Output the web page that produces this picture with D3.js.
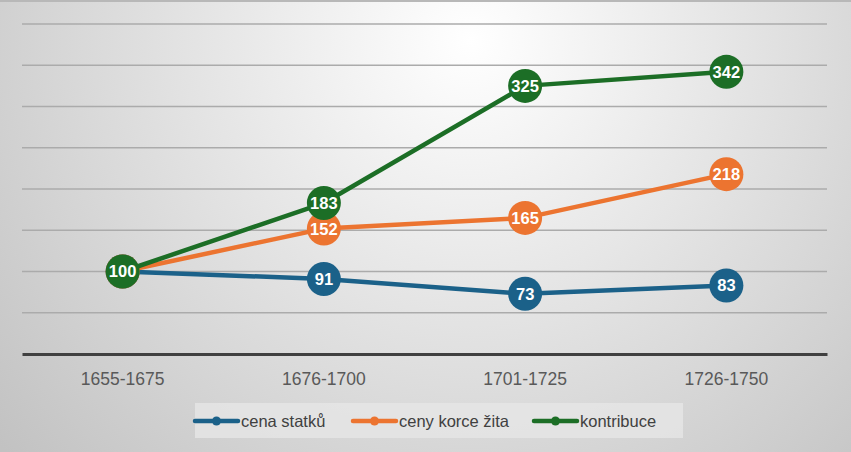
<!DOCTYPE html>
<html>
<head>
<meta charset="utf-8">
<script src="https://cdn.jsdelivr.net/npm/d3@7"></script>
<style>
  html, body { margin: 0; padding: 0; background: #fff; }
  svg { display: block; }
</style>
</head>
<body>
<div id="chart"></div>
<script>
// data
var categories = ["1655-1675", "1676-1700", "1701-1725", "1726-1750"];
var cenaStatku = [100, 91, 73, 83];
var cenyKorceZita = [100, 152, 165, 218];
var kontribuce = [100, 183, 325, 342];
var seriesNames = ["cena statků", "ceny korce žita", "kontribuce"];
var seriesColors = ["#1b6189", "#ec7430", "#1c6e26"];
var yTicks = [0, 50, 100, 150, 200, 250, 300, 350, 400];

var width = 851;
var height = 452;

var seriesList = [cenaStatku, cenyKorceZita, kontribuce];

var svg = d3.select("#chart")
    .append("svg")
    .attr("xmlns", "http://www.w3.org/2000/svg")
    .attr("width", width)
    .attr("height", height);

// background gradient
var defs = svg.append("defs");
var grad = defs.append("radialGradient")
    .attr("id", "bg")
    .attr("gradientUnits", "userSpaceOnUse")
    .attr("cx", 470).attr("cy", 40)
    .attr("r", 620);
grad.append("stop").attr("offset", "0%").attr("stop-color", "#ffffff");
grad.append("stop").attr("offset", "100%").attr("stop-color", "#c2c2c2");

svg.append("rect")
    .attr("width", width)
    .attr("height", height)
    .attr("fill", "url(#bg)");

svg.append("rect")
    .attr("width", width)
    .attr("height", 2)
    .attr("fill", "#b8b8b8");

var x = d3.scaleBand()
    .domain(categories)
    .range([22, 827]);

var y = d3.scaleLinear()
    .domain([0, 400])
    .range([354, 24]);

// gridlines
svg.append("g")
    .selectAll("line")
    .data(yTicks.filter(function(d) { return d > 0; }))
    .enter()
    .append("line")
    .attr("x1", 22)
    .attr("x2", 827)
    .attr("y1", function(d) { return y(d); })
    .attr("y2", function(d) { return y(d); })
    .attr("stroke", "#ababab")
    .attr("stroke-width", 1.5);

// x axis
var xAxis = svg.append("g")
    .attr("transform", "translate(0," + y(0) + ")")
    .call(d3.axisBottom(x).tickSize(0).tickPadding(19));
xAxis.select(".domain")
    .attr("stroke", "#404040")
    .attr("stroke-width", 3);
xAxis.selectAll("text")
    .attr("fill", "#595959")
    .style("font-family", "Liberation Sans, Arial, sans-serif")
    .style("font-size", "17.5px");

var cx = function(i) { return x(categories[i]) + x.bandwidth() / 2; };

var line = d3.line()
    .x(function(d, i) { return cx(i); })
    .y(function(d) { return y(d); });

seriesList.forEach(function(values, s) {
    var g = svg.append("g");
    g.append("path")
        .datum(values)
        .attr("d", line)
        .attr("fill", "none")
        .attr("stroke", seriesColors[s])
        .attr("stroke-width", 4.5)
        .attr("stroke-linejoin", "round");

    var pts = g.selectAll("g.pt")
        .data(values)
        .enter()
        .append("g")
        .attr("class", "pt")
        .attr("transform", function(d, i) {
            return "translate(" + cx(i) + "," + y(d) + ")";
        });
    pts.append("circle")
        .attr("r", 17)
        .attr("fill", seriesColors[s]);
    pts.append("text")
        .attr("text-anchor", "middle")
        .attr("dy", "0.36em")
        .attr("fill", "#ffffff")
        .style("font-family", "Liberation Sans, Arial, sans-serif")
        .style("font-weight", "bold")
        .style("font-size", "16.5px")
        .text(function(d) { return d; });
});

// legend
var legend = svg.append("g");
legend.append("rect")
    .attr("x", 195)
    .attr("y", 403)
    .attr("width", 488)
    .attr("height", 35)
    .attr("fill", "#e6e6e6")
    .attr("opacity", 0.8);

var legendX = [195, 353, 534];
seriesNames.forEach(function(name, s) {
    var lg = legend.append("g")
        .attr("transform", "translate(" + legendX[s] + ",421)");
    lg.append("line")
        .attr("x1", 0).attr("x2", 43)
        .attr("y1", 0).attr("y2", 0)
        .attr("stroke", seriesColors[s])
        .attr("stroke-width", 4.5)
        .attr("stroke-linecap", "round");
    lg.append("circle")
        .attr("cx", 21.5)
        .attr("r", 4.5)
        .attr("fill", seriesColors[s]);
    lg.append("text")
        .attr("x", 46)
        .attr("dy", "0.35em")
        .attr("fill", "#404040")
        .style("font-family", "Liberation Sans, Arial, sans-serif")
        .style("font-size", "16.5px")
        .text(name);
});
</script>
</body>
</html>
